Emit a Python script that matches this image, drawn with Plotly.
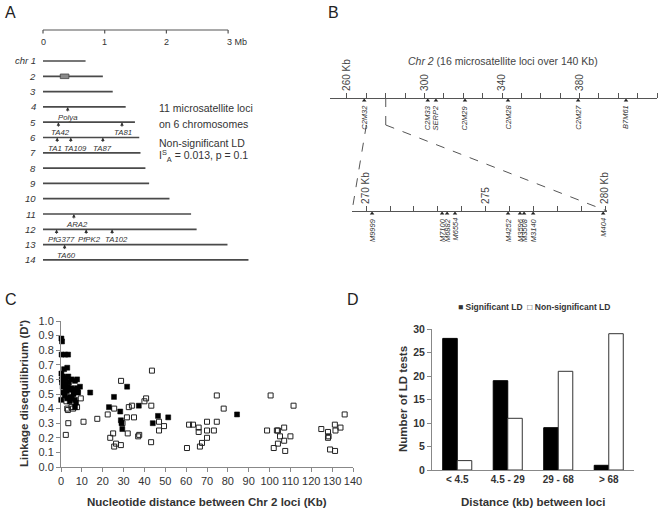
import plotly.graph_objects as go

W, H = 661, 510

# ---------------- DATA ----------------
# Panel A: chromosome map (Mb)
chr_labels = ['chr 1', '2', '3', '4', '5', '6', '7', '8', '9', '10', '11', '12', '13', '14']
chr_len_mb = [0.69, 0.97, 1.13, 1.34, 1.49, 1.56, 1.58, 1.66, 1.72, 2.05, 2.40, 2.49, 2.99, 3.33]
chr2_box_mb = [0.28, 0.42]
scale_ticks_mb = [0, 1, 2, 3]
scale_tick_text = ['0', '1', '2', '3 Mb']
locA_names = ['Polya', 'TA42', 'TA81', 'TA1', 'TA109', 'TA87', 'ARA2', 'PfG377', 'PfPK2', 'TA102', 'TA60']
locA_chr = [4, 5, 5, 6, 6, 6, 11, 12, 12, 12, 13]
locA_mb = [0.40, 0.25, 1.28, 0.23, 0.45, 0.97, 0.50, 0.22, 0.70, 1.12, 0.35]

# Panel B: chr 2 map (Kb)
main_names = ['C2M32', 'C2M33', 'SERP2', 'C2M29', 'C2M28', 'C2M27', 'B7M61']
main_kb = [268.9, 301.7, 305.9, 320.9, 343.1, 379.3, 404.0]
main_major = [260, 300, 340, 380, 420]
main_major_text = ['260 Kb', '300', '340', '380', '420 Kb']
main_minor = [270, 280, 290, 310, 320, 330, 350, 360, 370, 390, 400, 410]
zoom_names = ['M9999', 'M7100', 'M6882', 'M6554', 'M4252', 'M3596', 'M3508', 'M3140', 'M404']
zoom_kb = [270.25, 273.18, 273.39, 273.72, 275.94, 276.44, 276.61, 276.99, 279.92]
zoom_major = [270, 275, 280]
zoom_major_text = ['270 Kb', '275', '280 Kb']
zoom_minor = [271, 272, 273, 274, 276, 277, 278, 279]
zoom_window_kb = [270, 280]

# Panel C: LD vs distance
sig_dist = [0.2, 0.5, 0.3, 2.0, 3.4, 1.5, 3.0, 0.2, 1.0, 3.5, 0.5, 2.0, 3.4, 1.0, 2.8, 4.3, 0.1, 0.8,
            1.5, 2.5, 3.8, 4.0, 1.8, 2.2, 0.4, 3.0, 1.2, 4.2,
            5.0, 6.7, 5.0, 7.6, 9.1, 5.8, 8.2, 5.2, 6.7, 7.2, 6.7, 7.7, 6.0, 8.0,
            14.0, 23.0, 25.4, 28.4, 28.7,
            29.4, 29.0, 31.7, 37.3, 44.0, 46.5, 51.4,
            84.4]
sig_ld = [0.88, 0.86, 0.77, 0.77, 0.77, 0.67, 0.68, 0.64, 0.62, 0.62, 0.58, 0.57, 0.55, 0.51, 0.52, 0.48, 0.46, 0.55,
          0.60, 0.61, 0.58, 0.53, 0.49, 0.53, 0.60, 0.47, 0.56, 0.45,
          0.60, 0.59, 0.54, 0.54, 0.55, 0.53, 0.51, 0.47, 0.46, 0.44, 0.41, 0.60, 0.50, 0.52,
          0.51, 0.41, 0.48, 0.38, 0.32,
          0.26, 0.30, 0.55, 0.42, 0.30, 0.35, 0.34,
          0.36]
ns_dist = [2.3, 3.5, 2.6, 3.0, 3.3, 5.0, 5.8, 7.7, 9.5, 10.8, 17.4, 22.4, 23.6, 25.0, 25.5, 26.4, 25.5, 28.7,
           28.8, 29.5, 31.6, 32.0, 32.5, 34.0, 35.0, 37.0, 37.5, 40.0, 40.8, 43.6, 43.3, 43.2, 47.0, 49.4, 47.0,
           60.4, 61.4, 63.3, 66.0, 66.0, 66.6, 67.6,
           70.0, 70.0, 70.0, 73.3, 74.7, 74.7, 78.0,
           98.8, 100.5, 111.5, 103.5, 104.0, 107.0, 105.0, 110.0, 107.0, 104.0, 102.0, 107.5,
           124.8, 128.0, 131.3, 131.6, 134.0, 136.0, 128.0, 128.3, 129.0, 131.4]
ns_ld = [0.22, 0.30, 0.45, 0.40, 0.39, 0.41, 0.40, 0.41, 0.47, 0.31, 0.33, 0.36, 0.20, 0.23, 0.40, 0.16, 0.14, 0.15,
         0.59, 0.30, 0.34, 0.23, 0.41, 0.42, 0.34, 0.21, 0.22, 0.45, 0.47, 0.66, 0.42, 0.17, 0.31, 0.28, 0.25,
         0.13, 0.29, 0.29, 0.27, 0.24, 0.14, 0.165,
         0.31, 0.25, 0.20, 0.25, 0.31, 0.49, 0.40,
         0.25, 0.49, 0.42, 0.25, 0.25, 0.27, 0.21, 0.21, 0.18, 0.16, 0.13, 0.11,
         0.26, 0.24, 0.29, 0.25, 0.27, 0.36, 0.20, 0.21, 0.12, 0.11]

# Panel D: counts per distance class
dist_bins = ['< 4.5', '4.5 - 29', '29 - 68', '> 68']
sig_counts = [28, 19, 9, 1]
ns_counts = [2, 11, 21, 29]

# ---------------- HELPERS ----------------
def xd(a, b):
    return [a / W, b / W]

def yd(top, bot):
    return [1 - bot / H, 1 - top / H]

def px_x(px):
    return px / W

def px_y(py):
    return 1 - py / H

def to_paper(v, dom, rng):
    return dom[0] + (v - rng[0]) / (rng[1] - rng[0]) * (dom[1] - dom[0])

TXT = '#333333'
LINE = '#555555'
AX = '#888888'
FONT = 'Liberation Sans, Arial, sans-serif'

fig = go.Figure()
ann = []
shapes = []

# ---------------- PANEL A ----------------
A_X0_PX, A_MB_PX = 43, 61.7
A_R1_PY, A_ROW_PX = 61, 15.3
A_XDOM_PX = (20, 262)
A_YDOM_PX = (20, 272)
a_xr = [(A_XDOM_PX[0] - A_X0_PX) / A_MB_PX, (A_XDOM_PX[1] - A_X0_PX) / A_MB_PX]

def a_row(py):
    return 1 + (py - A_R1_PY) / A_ROW_PX

a_yr = [a_row(A_YDOM_PX[1]), a_row(A_YDOM_PX[0])]
rows = list(range(1, len(chr_labels) + 1))

cx, cy = [], []
for r, L in zip(rows, chr_len_mb):
    cx += [0, L, None]
    cy += [r, r, None]
fig.add_trace(go.Scatter(x=cx, y=cy, mode='lines', line=dict(color='#4a4a4a', width=1.7),
                         xaxis='x', yaxis='y', hoverinfo='skip'))

scale_row = a_row(30)
tlen = 3.5 / A_ROW_PX
sx = [min(scale_ticks_mb), max(scale_ticks_mb), None]
sy = [scale_row, scale_row, None]
for t in scale_ticks_mb:
    sx += [t, t, None]
    sy += [scale_row, scale_row + tlen, None]
fig.add_trace(go.Scatter(x=sx, y=sy, mode='lines', line=dict(color=LINE, width=1.2),
                         xaxis='x', yaxis='y', hoverinfo='skip'))
for t, s in zip(scale_ticks_mb, scale_tick_text):
    is_unit = 'Mb' in s
    ann.append(dict(x=t, y=scale_row, xref='x', yref='y', text=s, showarrow=False,
                    yanchor='top', yshift=-5, xanchor='left' if is_unit else 'center',
                    xshift=-3 if is_unit else 0, font=dict(size=9, color=TXT)))

for r, lab in zip(rows, chr_labels):
    ann.append(dict(x=0, y=r, xref='x', yref='y', text=f'<i>{lab}</i>', showarrow=False,
                    xanchor='right', xshift=-5, font=dict(size=9.5, color=TXT)))

shapes.append(dict(type='rect', xref='x', yref='y', x0=chr2_box_mb[0], x1=chr2_box_mb[1],
                   y0=2 - 0.15, y1=2 + 0.15, fillcolor='#8a8a8a', line=dict(color='#444', width=0.8)))

# label nudges (pixels) to keep neighbouring names apart as in the original
locA_label_shift = {'TA1': -2, 'TA109': 5, 'PfG377': 5, 'PfPK2': 3, 'TA102': 4, 'ARA2': 3,
                    'TA60': 2, 'TA42': 2, 'TA81': 1}
for n, c, mb in zip(locA_names, locA_chr, locA_mb):
    ann.append(dict(x=mb, y=c, xref='x', yref='y', text='', showarrow=True,
                    ax=0, ay=6, arrowhead=2, arrowsize=0.8, arrowwidth=0.9, arrowcolor=TXT,
                    standoff=0))
    ann.append(dict(x=mb, y=c, xref='x', yref='y', text=f'<i>{n}</i>', showarrow=False,
                    yanchor='top', xanchor='center', yshift=-5, xshift=locA_label_shift.get(n, 0),
                    borderpad=0, font=dict(size=7.8, color=TXT)))

for txt, py in [('11 microsatellite loci', 108), ('on 6 chromosomes', 124),
                ('Non-significant LD', 143), ('I<sup>S</sup><sub>A</sub> = 0.013, p = 0.1', 156)]:
    ann.append(dict(x=px_x(157), y=px_y(py), xref='paper', yref='paper', text=txt, showarrow=False,
                    xanchor='left', yanchor='middle', font=dict(size=10.5, color=TXT)))

# ---------------- PANEL B ----------------
B_MAIN_DOM = xd(330, 657)
B_MAIN_RANGE = [251.23, 420]
B_ZOOM_DOM = xd(352, 607)
B_ZOOM_RANGE = [269.41, 280.08]
MAIN_PY, ZOOM_PY = 98, 211

def b_lvl(py):
    return (ZOOM_PY - py) / (ZOOM_PY - MAIN_PY)

b_yr = [b_lvl(262), b_lvl(20)]
MAIN_LVL, ZOOM_LVL = 1.0, 0.0
mark_off = b_lvl(MAIN_PY + 2.5) - MAIN_LVL

fig.add_trace(go.Scatter(x=main_kb, y=[MAIN_LVL + mark_off] * len(main_kb), mode='markers',
                         marker=dict(symbol='triangle-up', size=4, color='#222'),
                         xaxis='x2', yaxis='y2', cliponaxis=False, hoverinfo='skip'))
fig.add_trace(go.Scatter(x=zoom_kb, y=[ZOOM_LVL + mark_off] * len(zoom_kb), mode='markers',
                         marker=dict(symbol='triangle-up', size=4, color='#222'),
                         xaxis='x3', yaxis='y2', cliponaxis=False, hoverinfo='skip'))

for n, kb in zip(main_names, main_kb):
    ann.append(dict(x=kb, y=MAIN_LVL, xref='x2', yref='y2', text=f'<i>{n}</i>', showarrow=False,
                    textangle=-90, yanchor='top', xanchor='center', yshift=-5,
                    font=dict(size=7.5, color=TXT)))
for n, kb in zip(zoom_names, zoom_kb):
    ann.append(dict(x=kb, y=ZOOM_LVL, xref='x3', yref='y2', text=f'<i>{n}</i>', showarrow=False,
                    textangle=-90, yanchor='top', xanchor='center', yshift=-5,
                    font=dict(size=7.5, color=TXT)))

ann.append(dict(x=px_x(503), y=px_y(61), xref='paper', yref='paper', xanchor='center', yanchor='middle',
                text='<i>Chr 2</i> (16 microsatellite loci over 140 Kb)', showarrow=False,
                font=dict(size=10.5, color='#444')))

knee = b_lvl(125)
zl, zr = B_ZOOM_RANGE
for kb_main, kb_zoom, vert in [(zoom_window_kb[0], zl, False), (zoom_window_kb[1], zr, True)]:
    xm = to_paper(kb_main, B_MAIN_DOM, B_MAIN_RANGE)
    xz = to_paper(kb_zoom, B_ZOOM_DOM, B_ZOOM_RANGE)
    if vert:
        shapes.append(dict(type='line', xref='paper', yref='y2', x0=xm, x1=xm, y0=MAIN_LVL, y1=knee,
                           line=dict(color=LINE, width=1, dash='dash')))
    shapes.append(dict(type='line', xref='paper', yref='y2', x0=xm, x1=xz, y0=knee, y1=ZOOM_LVL,
                       line=dict(color=LINE, width=1, dash='dash')))

# ---------------- PANEL C ----------------
fig.add_trace(go.Scatter(x=ns_dist, y=ns_ld, mode='markers', xaxis='x4', yaxis='y4',
                         marker=dict(symbol='square-open', size=5, color='#222', line=dict(width=1)),
                         cliponaxis=False, name='Non-significant LD'))
fig.add_trace(go.Scatter(x=sig_dist, y=sig_ld, mode='markers', xaxis='x4', yaxis='y4',
                         marker=dict(symbol='square', size=5, color='#000', line=dict(width=0.5, color='#000')),
                         cliponaxis=False, name='Significant LD'))
ann.append(dict(x=px_x(207), y=px_y(502), xref='paper', yref='paper', xanchor='center', yanchor='middle',
                text='<b>Nucleotide distance between Chr 2 loci (Kb)</b>', showarrow=False,
                font=dict(size=11.5, color=TXT)))
ann.append(dict(x=px_x(24), y=px_y(394), xref='paper', yref='paper', xanchor='center', yanchor='middle',
                text="<b>Linkage disequilibrium (D')</b>", showarrow=False, textangle=-90,
                font=dict(size=11.5, color=TXT)))

# ---------------- PANEL D ----------------
fig.add_trace(go.Bar(x=dist_bins, y=sig_counts, xaxis='x5', yaxis='y5', name='Significant LD',
                     marker=dict(color='#000', line=dict(color='#000', width=1))))
fig.add_trace(go.Bar(x=dist_bins, y=ns_counts, xaxis='x5', yaxis='y5', name='Non-significant LD',
                     marker=dict(color='#fff', line=dict(color='#333', width=1))))
ann.append(dict(x=px_x(456), y=px_y(307), xref='paper', yref='paper', xanchor='left', yanchor='middle',
                text='<b>■ Significant LD  □ Non-significant LD</b>', showarrow=False,
                font=dict(size=8.5, color=TXT)))
ann.append(dict(x=px_x(533), y=px_y(502), xref='paper', yref='paper', xanchor='center', yanchor='middle',
                text='<b>Distance (kb) between loci</b>', showarrow=False,
                font=dict(size=11.5, color=TXT)))
ann.append(dict(x=px_x(403), y=px_y(399), xref='paper', yref='paper', xanchor='center', yanchor='middle',
                text='<b>Number of LD tests</b>', showarrow=False, textangle=-90,
                font=dict(size=11.5, color=TXT)))

# panel letters
for lab, x, y in [('A', 3, 12), ('B', 326, 12), ('C', 3, 299), ('D', 345, 299)]:
    ann.append(dict(x=px_x(x), y=px_y(y), xref='paper', yref='paper', text=lab, showarrow=False,
                    xanchor='left', yanchor='middle', font=dict(size=16, color='#222')))

hidden = dict(visible=False, showgrid=False, zeroline=False, fixedrange=True)

def map_axis(dom, rng, py, major, major_text, minor):
    return dict(domain=dom, range=rng, anchor='free', position=px_y(py), side='top',
                showline=True, linecolor=LINE, linewidth=1.2, ticks='outside', ticklen=5,
                tickcolor=LINE, tickwidth=1, tickmode='array', tickvals=major, ticktext=major_text,
                tickangle=-90, tickfont=dict(size=10, color='#444'),
                minor=dict(tickmode='array', tickvals=minor, ticks='outside', ticklen=5,
                           tickcolor=LINE, tickwidth=1, showgrid=False),
                showgrid=False, zeroline=False, automargin=False, fixedrange=True)

layout = dict(
    width=W, height=H, margin=dict(l=0, r=0, t=0, b=0),
    paper_bgcolor='white', plot_bgcolor='rgba(0,0,0,0)', showlegend=False,
    font=dict(family=FONT, color=TXT),
    bargap=0.425, bargroupgap=0, barmode='group',
    xaxis=dict(domain=xd(*A_XDOM_PX), range=a_xr, anchor='y', **hidden),
    yaxis=dict(domain=yd(*A_YDOM_PX), range=a_yr, anchor='x', **hidden),
    xaxis2=map_axis(B_MAIN_DOM, B_MAIN_RANGE, MAIN_PY, main_major, main_major_text, main_minor),
    xaxis3=map_axis(B_ZOOM_DOM, B_ZOOM_RANGE, ZOOM_PY, zoom_major, zoom_major_text, zoom_minor),
    yaxis2=dict(domain=yd(20, 262), range=b_yr, anchor='x2', **hidden),
    xaxis4=dict(domain=xd(61, 353), range=[0, 140], anchor='y4', showline=True, linecolor=AX,
                ticks='outside', ticklen=4, tickcolor=AX, dtick=10, tick0=0,
                tickfont=dict(size=11, color=TXT), showgrid=False, zeroline=False,
                automargin=False, fixedrange=True),
    yaxis4=dict(domain=yd(321, 467), range=[0, 1], anchor='x4', showline=True, linecolor=AX,
                ticks='outside', ticklen=4, tickcolor=AX, dtick=0.1, tick0=0, tickformat='.1f',
                tickfont=dict(size=11, color=TXT), showgrid=False, zeroline=False,
                automargin=False, fixedrange=True),
    xaxis5=dict(domain=xd(432, 634), type='category', range=[-0.5, 3.5], anchor='y5',
                showline=True, linecolor=AX, ticks='', tickfont=dict(size=10, color=TXT, weight='bold'),
                showgrid=False, zeroline=False, automargin=False, fixedrange=True),
    yaxis5=dict(domain=yd(329, 470), range=[0, 30], anchor='x5', showline=True, linecolor=AX,
                ticks='outside', ticklen=4, tickcolor=AX, dtick=5, tick0=0,
                tickfont=dict(size=10.5, color=TXT, weight='bold'), showgrid=False, zeroline=False,
                automargin=False, fixedrange=True),
    annotations=ann, shapes=shapes,
)
fig.update_layout(**layout)
fig.write_html('out.html', config={'displayModeBar': False},
               post_script="document.body.style.margin='0';")
